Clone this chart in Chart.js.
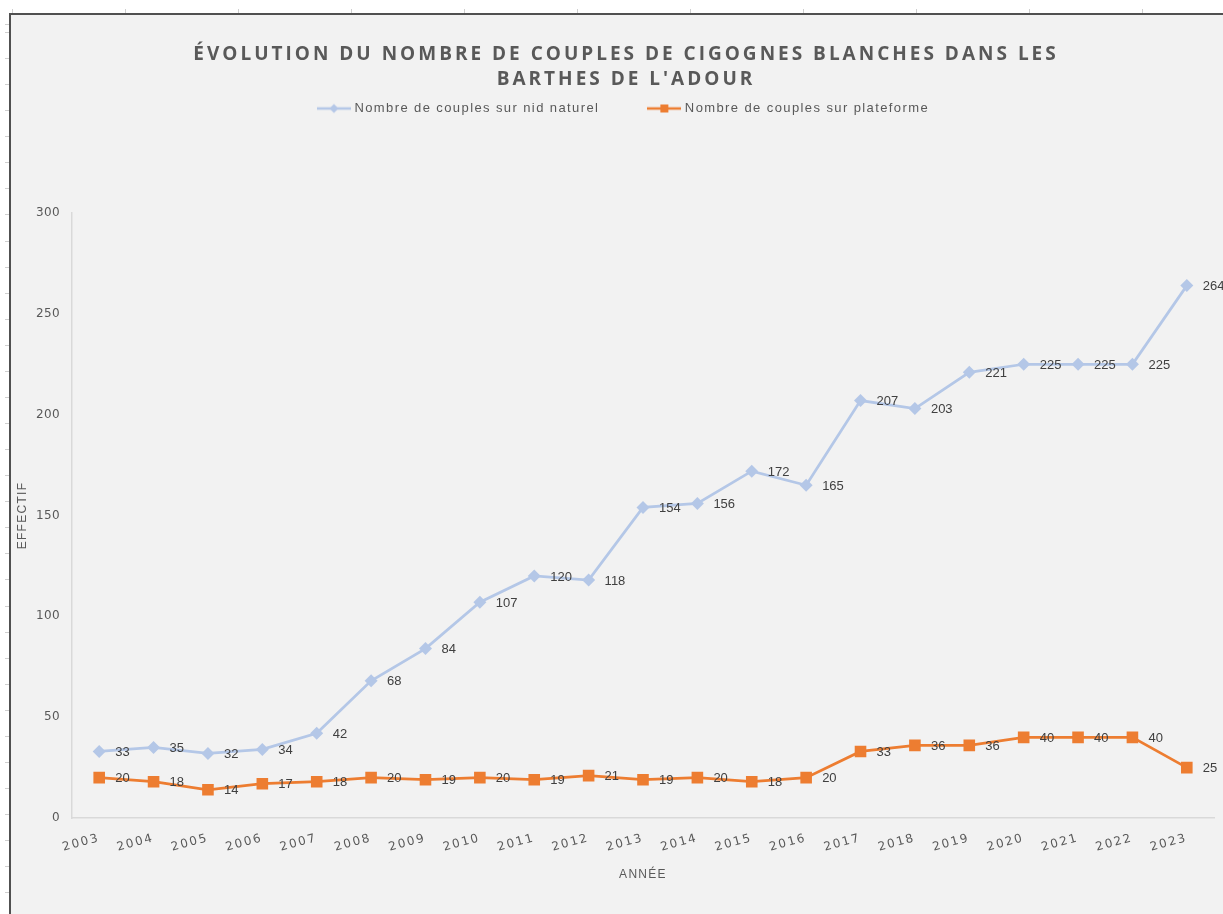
<!DOCTYPE html>
<html><head><meta charset="utf-8">
<script src="https://cdn.jsdelivr.net/npm/chart.js@4.4.1/dist/chart.umd.min.js"></script>
<style>
html,body{margin:0;padding:0;background:#fff;width:1223px;height:914px;overflow:hidden;position:relative}
#rulerTop{position:absolute;left:0;top:9px;width:1223px;height:4px;background-image:repeating-linear-gradient(to right,#cfcfcf 0,#cfcfcf 1px,transparent 1px,transparent 113px);background-position:12px 0}
#rulerLeft{position:absolute;left:5px;top:20px;width:4px;height:894px;background-image:repeating-linear-gradient(to bottom,#cfcfcf 0,#cfcfcf 1px,transparent 1px,transparent 26.07px);background-position:0 12px}
#frame{position:absolute;left:9px;top:13px;width:1212px;height:899px;border-left:2px solid #505050;border-top:2px solid #505050;background:#f2f2f2}
canvas{display:block}
</style></head>
<body>
<div id="rulerTop"></div><div id="rulerLeft"></div>
<div id="frame"><canvas id="c" width="1212" height="899"></canvas></div>
<script>
// ---- data ----
const years = ['2003','2004','2005','2006','2007','2008','2009','2010','2011','2012','2013','2014','2015','2016','2017','2018','2019','2020','2021','2022','2023'];
const naturalNests = [33,35,32,34,42,68,84,107,120,118,154,156,172,165,207,203,221,225,225,225,264];
const platformNests = [20,18,14,17,18,20,19,20,19,21,19,20,18,20,33,36,36,40,40,40,25];
const seriesNames = ['Nombre de couples sur nid naturel','Nombre de couples sur plateforme'];
const titleLines = ['ÉVOLUTION DU NOMBRE DE COUPLES DE CIGOGNES BLANCHES DANS LES',"BARTHES DE L'ADOUR"];
const yMin = 0, yMax = 300, yStep = 50;

const BLUE = '#b4c7e7', ORANGE = '#ed7d31', TXT = '#595959';

function makeIcon(color, shape){
  const c = document.createElement('canvas'); c.width = 34; c.height = 12;
  const x = c.getContext('2d');
  x.strokeStyle = color; x.lineWidth = 2.5;
  x.beginPath(); x.moveTo(0,6); x.lineTo(34,6); x.stroke();
  x.fillStyle = color;
  if (shape === 'diamond'){ x.beginPath(); x.moveTo(17,1.5); x.lineTo(21.5,6); x.lineTo(17,10.5); x.lineTo(12.5,6); x.closePath(); x.fill(); }
  else { x.fillRect(13,2,8,8); }
  return c;
}
const icons = [makeIcon(BLUE,'diamond'), makeIcon(ORANGE,'square')];

const TITLE_DX = 13.5, LEG_DX = 12, LEG_DY = -48, LEG_H = 114;

const tweak = {
  id: 'tweak',
  afterInit(chart){
    const tb = chart.titleBlock, lg = chart.legend;
    const tDraw = tb.draw.bind(tb);
    tb.draw = function(a){ const c = chart.ctx; c.save(); c.letterSpacing = '3px'; c.translate(TITLE_DX,0); tDraw(a); c.restore(); };
    const lFit = lg.fit.bind(lg);
    lg.fit = function(){ const c = chart.ctx; c.save(); c.letterSpacing = '1.4px'; lFit(); c.restore(); this.height = LEG_H; };
    const lDraw = lg.draw.bind(lg);
    lg.draw = function(){ const c = chart.ctx; c.save(); c.letterSpacing = '1.4px'; c.translate(LEG_DX, LEG_DY); lDraw(); c.restore(); };
  },
  beforeDraw(chart){
    for (const id of ['x','y']){
      const s = chart.scales[id];
      if (s._lsWrapped) continue;
      s._lsWrapped = true;
      const ls = id === 'x' ? '1.8px' : '0.4px';
      const dl = s.drawLabels.bind(s);
      s.drawLabels = function(a){ const c = chart.ctx; c.save(); c.letterSpacing = ls; dl(a); c.restore(); };
      const dt = s.drawTitle.bind(s);
      s.drawTitle = function(a){ const c = chart.ctx; c.save(); c.letterSpacing = '1.3px'; dt(a); c.restore(); };
    }
  },
  afterDatasetsDraw(chart){
    const ctx = chart.ctx;
    ctx.save();
    ctx.font = '13px "Liberation Sans", Arial, sans-serif';
    ctx.fillStyle = '#404040';
    ctx.textAlign = 'left';
    ctx.textBaseline = 'middle';
    chart.data.datasets.forEach((ds, i) => {
      chart.getDatasetMeta(i).data.forEach((pt, j) => {
        ctx.fillText(String(ds.data[j]), pt.x + 16, pt.y + 1);
      });
    });
    ctx.restore();
  }
};

new Chart(document.getElementById('c'), {
  type: 'line',
  data: {
    labels: years,
    datasets: [
      { label: seriesNames[0], data: naturalNests, borderColor: BLUE, backgroundColor: BLUE,
        borderWidth: 2.75, pointStyle: 'rectRot', pointRadius: 6.5, pointBorderWidth: 0, pointBackgroundColor: BLUE, tension: 0 },
      { label: seriesNames[1], data: platformNests, borderColor: ORANGE, backgroundColor: ORANGE,
        borderWidth: 2.75, pointStyle: 'rect', pointRadius: 8.2, pointBorderWidth: 0, pointBackgroundColor: ORANGE, tension: 0 }
    ]
  },
  options: {
    responsive: false,
    animation: false,
    devicePixelRatio: 1,
    layout: { padding: { left: 0, right: 9, top: 0, bottom: 0 } },
    plugins: {
      title: { display: true, text: titleLines, color: TXT,
        font: { family: '"Open Sans", sans-serif', size: 19, weight: 'bold', lineHeight: 25/19 },
        padding: { top: 27, bottom: 7 } },
      legend: { display: true, position: 'top',
        labels: { usePointStyle: true, pointStyleWidth: 28, boxHeight: 12, padding: 51, color: TXT,
          font: { family: '"Liberation Sans", Arial, sans-serif', size: 13 },
          generateLabels: (chart) => chart.data.datasets.map((ds, i) => ({
            text: ds.label, pointStyle: icons[i], fillStyle: ds.borderColor, strokeStyle: ds.borderColor,
            lineWidth: 0, hidden: false, datasetIndex: i, fontColor: TXT }))
        } },
      tooltip: { enabled: false }
    },
    scales: {
      x: {
        type: 'category', offset: true,
        grid: { display: true, color: 'rgba(0,0,0,0)', drawTicks: false },
        border: { display: true, color: '#d9d9d9', width: 1.5 },
        ticks: { minRotation: 15, maxRotation: 15, padding: 13, color: TXT, autoSkip: false,
          font: { family: '"DejaVu Sans", sans-serif', size: 12 } },
        title: { display: true, text: 'ANNÉE', color: TXT, padding: { top: 0, bottom: 32 },
          font: { family: '"Liberation Sans", Arial, sans-serif', size: 12 } },
        afterFit: (s) => { s.height = 96; }
      },
      y: {
        min: yMin, max: yMax,
        grid: { display: true, color: 'rgba(0,0,0,0)', drawTicks: false },
        border: { display: true, color: '#d9d9d9', width: 1.5 },
        ticks: { stepSize: yStep, padding: 12, color: TXT,
          font: { family: '"DejaVu Sans", sans-serif', size: 12 } },
        title: { display: true, text: 'EFFECTIF', color: TXT, padding: { top: 4, bottom: 0 },
          font: { family: '"Liberation Sans", Arial, sans-serif', size: 12 } },
        afterFit: (s) => { s.width = 61; }
      }
    }
  },
  plugins: [tweak]
});
</script>
</body></html>
